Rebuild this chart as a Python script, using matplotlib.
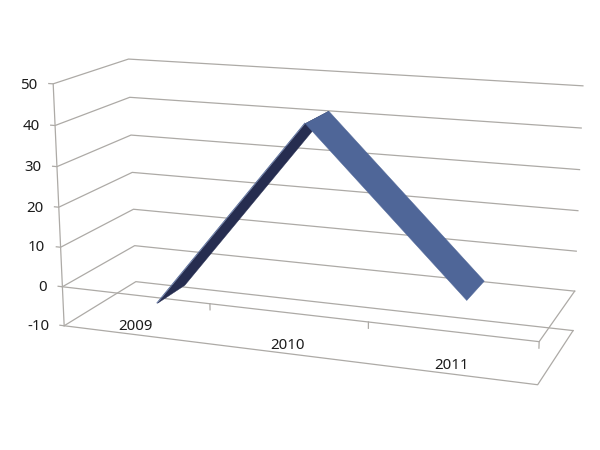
import matplotlib
matplotlib.use('Agg')
import matplotlib.pyplot as plt
from mpl_toolkits.mplot3d import proj3d
from mpl_toolkits.mplot3d.art3d import Poly3DCollection

plt.rcParams['font.family'] = ['Noto Sans', 'DejaVu Sans']

categories = ['2009', '2010', '2011']
values = [-5.5, 42.35, 3.85]
z_ticks = [-10, 0, 10, 20, 30, 40, 50]

grid = '#adaaa6'
dark = '#262d50'
light = '#4f6698'

fig = plt.figure(figsize=(6, 4.5), dpi=100)
size = 560.2
ax = fig.add_axes([(309.2 - size / 2) / 600, 1 - (216.5 + size / 2) / 450, size / 600, size / 450],
                  projection='3d', computed_zorder=False)
ax.set_xlim(0, 3, view_margin=0)
ax.set_ylim(0, 1, view_margin=0)
ax.set_zlim(-10, 50, view_margin=0)
ax.view_init(elev=14.553, azim=-69.581, roll=0.165)
ax.set_proj_type('persp', focal_length=0.52)
ax.set_box_aspect((1.9633, 0.647, 1))
ax.set_axis_off()

n = len(categories)
lw = 0.9

# walls
for z in z_ticks:
    ax.plot([-0.03, 0, 0, n], [0, 0, 1, 1], [z, z, z, z], color=grid, lw=lw, zorder=1)
ax.plot([0, 0], [0, 0], [z_ticks[0], z_ticks[-1]], color=grid, lw=lw, zorder=1)

# floor and the plane of the category axis
for z in [-10, 0]:
    ax.plot([0, n, n], [0, 0, 1], [z, z, z], color=grid, lw=lw, zorder=1)
for i in range(1, n + 1):
    ax.plot([i, i], [0, 0], [0, -1.5], color=grid, lw=lw, zorder=1)

# ribbon
y0, y1 = 0.30, 0.71
xs = [i + 0.5 for i in range(n)]
up = [(xs[0], y0, values[0]), (xs[1], y0, values[1]), (xs[1], y1, values[1]), (xs[0], y1, values[0])]
down = [(xs[1], y0, values[1]), (xs[2], y0, values[2]), (xs[2], y1, values[2]), (xs[1], y1, values[1])]
ax.add_collection3d(Poly3DCollection([up], facecolors=dark, edgecolors=dark, linewidths=0.3, zorder=2))
ax.plot(xs[:2], [y0, y0], values[:2], color=light, lw=0.6, zorder=3)
ax.add_collection3d(Poly3DCollection([down], facecolors=light, edgecolors=light, linewidths=0.3, zorder=4))


# labels sit in the 2d plane of the axes, at the projected position
def label(x, y, z, s, ha):
    u, v, _ = proj3d.proj_transform(x, y, z, ax.get_proj())
    ax.text2D(u, v, s, transform=ax.transData, ha=ha, va='center', fontsize=10.8,
              color='#1c1c1c', zorder=5)


for z in z_ticks:
    label(-0.108, 0, z - 0.6, str(z), 'right')
for i, name in enumerate(categories):
    label(xs[i], 0, -8, name, 'center')

fig.savefig('out.png')
